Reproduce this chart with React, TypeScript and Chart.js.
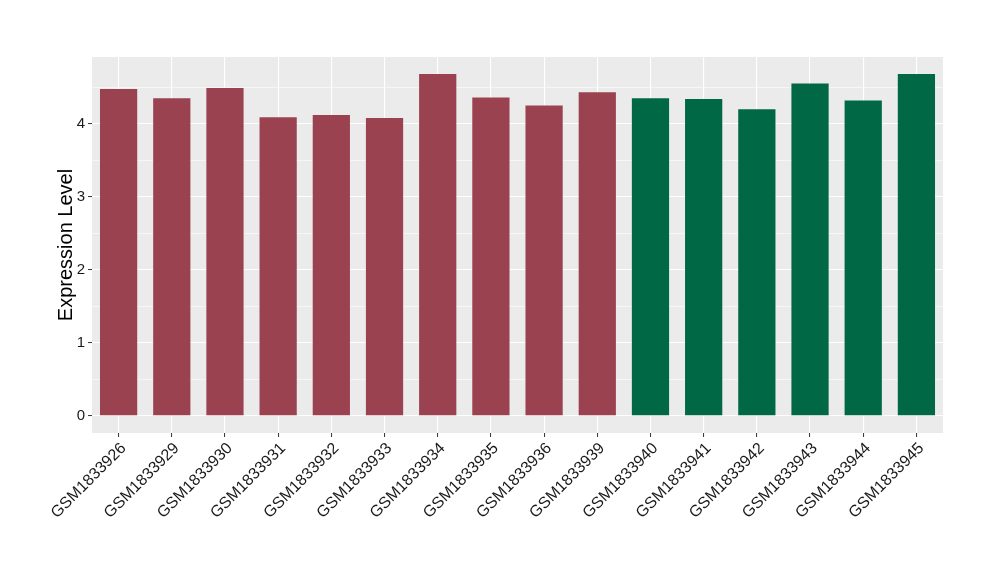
import React, { useEffect, useRef } from "react";
import { Chart, registerables } from "chart.js";

Chart.register(...registerables);

const categories = [
  "GSM1833926", "GSM1833929", "GSM1833930", "GSM1833931", "GSM1833932",
  "GSM1833933", "GSM1833934", "GSM1833935", "GSM1833936", "GSM1833939",
  "GSM1833940", "GSM1833941", "GSM1833942", "GSM1833943", "GSM1833944",
  "GSM1833945",
];
const values = [
  4.475, 4.35, 4.49, 4.09, 4.12, 4.08, 4.68, 4.36, 4.25, 4.43,
  4.35, 4.34, 4.20, 4.55, 4.32, 4.68,
];
const groups = ["A", "A", "A", "A", "A", "A", "A", "A", "A", "A", "B", "B", "B", "B", "B", "B"];
const groupColors: Record<string, string> = { A: "#9A4250", B: "#006845" };
const yMin = -0.234;
const yMax = 4.914;
const yTitle = "Expression Level";

const FONT = "'Liberation Sans', Arial, Helvetica, sans-serif";

const panelBg = {
  id: "panelBg",
  beforeDraw(chart: any) {
    const { ctx, chartArea } = chart;
    ctx.save();
    ctx.fillStyle = "#EBEBEB";
    ctx.fillRect(chartArea.left, chartArea.top, chartArea.right - chartArea.left, chartArea.bottom - chartArea.top);
    ctx.restore();
  },
};

export default function App() {
  const ref = useRef<HTMLCanvasElement | null>(null);
  useEffect(() => {
    document.body.style.margin = "0";
    const canvas = ref.current;
    if (!canvas) return;
    const isMajor = (v: number) => Math.abs(v - Math.round(v)) < 1e-6;
    const chart = new Chart(canvas, {
      type: "bar",
      data: {
        labels: categories,
        datasets: [
          {
            data: values,
            backgroundColor: groups.map((g) => groupColors[g]),
            borderWidth: 0,
            barPercentage: 0.7,
            categoryPercentage: 1,
          },
        ],
      },
      options: {
        animation: false,
        responsive: false,
        maintainAspectRatio: false,
        layout: { padding: { top: 57, right: 57, left: 0, bottom: 0 } },
        plugins: { legend: { display: false }, tooltip: { enabled: false } },
        scales: {
          x: {
            type: "category",
            offset: true,
            grid: {
              offset: false,
              color: "#FFFFFF",
              lineWidth: 1.1,
              drawTicks: true,
              tickLength: 4,
              tickColor: "#333333",
              tickWidth: 1,
            },
            border: { display: false },
            ticks: {
              maxRotation: 45,
              minRotation: 45,
              autoSkip: false,
              color: "#1A1A1A",
              padding: 2,
              labelOffset: 5,
              font: { family: FONT, size: 16 },
            },
            afterFit(scale: any) {
              scale.height = 147;
            },
          },
          y: {
            min: yMin,
            max: yMax,
            grid: {
              color: "#FFFFFF",
              lineWidth: (ctx: any) => (ctx.tick && isMajor(ctx.tick.value) ? 1.1 : 0.55),
              tickLength: 4,
              tickColor: (ctx: any) => (ctx.tick && isMajor(ctx.tick.value) ? "#333333" : "rgba(0,0,0,0)"),
              tickWidth: 1,
            },
            border: { display: false },
            ticks: {
              stepSize: 0.5,
              includeBounds: false,
              color: "#1A1A1A",
              padding: 3,
              font: { family: FONT, size: 15 },
              callback: (v: any) => (isMajor(Number(v)) ? String(Math.round(Number(v))) : ""),
            },
            title: {
              display: true,
              text: yTitle,
              color: "#000000",
              font: { family: FONT, size: 20 },
              padding: { top: 54, bottom: 0 },
            },
            afterFit(scale: any) {
              scale.width = 92;
            },
          },
        },
      },
      plugins: [panelBg],
    } as any);
    return () => chart.destroy();
  }, []);
  return (
    <div style={{ width: 1000, height: 580, background: "#fff" }}>
      <canvas ref={ref} width={1000} height={580} style={{ display: "block" }} />
    </div>
  );
}
